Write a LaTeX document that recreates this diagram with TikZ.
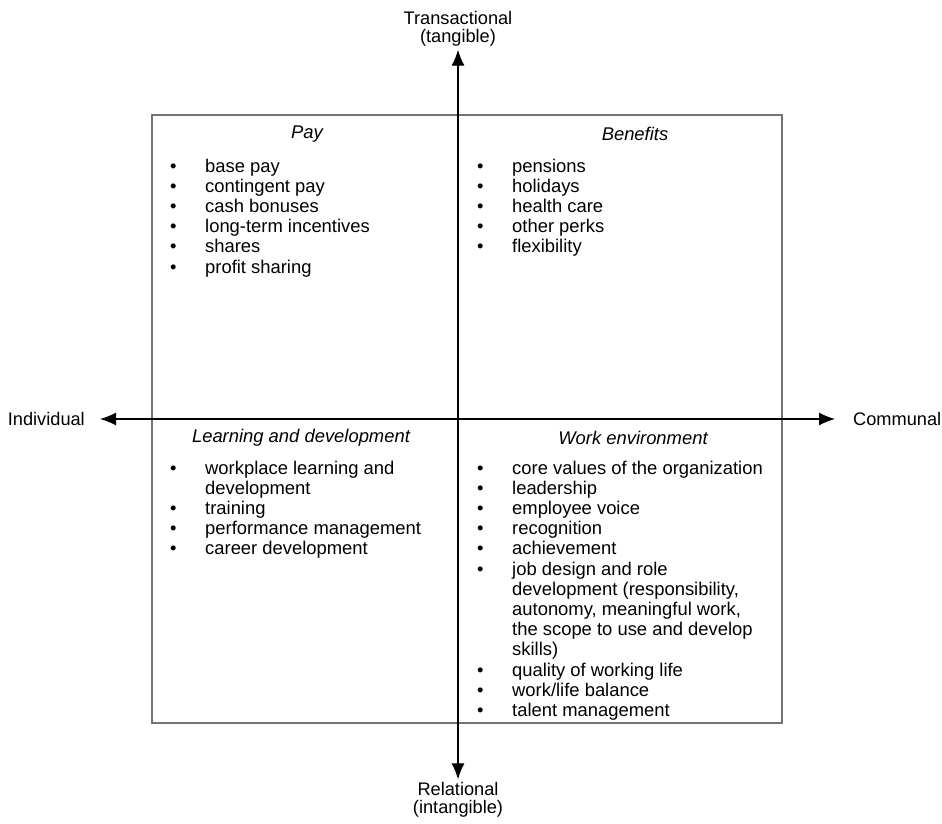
\documentclass[tikz,border=0pt]{standalone}
\usepackage{fontspec}
\setmainfont{Liberation Sans}
\usetikzlibrary{arrows.meta, positioning}

\newcommand{\quadfont}{\fontsize{18.4}{20.2}\selectfont}
\newcommand{\bul}{\textbullet}

\begin{document}
\begin{tikzpicture}[
    x=1pt, y=-1pt,
    font=\quadfont,
    frame/.style={draw=black!55, line width=1.3pt},
    axis/.style={{Latex[length=16pt,width=13pt]}-{Latex[length=16pt,width=13pt]}, line width=1.3pt},
    pole/.style={align=center, inner sep=3pt, font=\fontsize{18.2}{18}\selectfont},
    heading/.style={inner sep=0pt, font=\quadfont\itshape},
    items/.style={anchor=base west, inner sep=0pt}
]
\useasboundingbox (0,0) rectangle (942,824);

% the four quadrants
\draw[frame] (152,115) rectangle (782,723);

\node[pole] (trans) at (458,29) {Transactional\\(tangible)};
\node[pole] (rel) at (458,800) {Relational\\(intangible)};
\node[pole, anchor=east] (indiv) at (88,419) {Individual};
\node[pole, anchor=west] (comm) at (850,419) {Communal};

\draw[axis] (rel) -- (trans);
\draw[axis, shorten <=12pt, shorten >=15pt] (indiv) -- (comm);

\node[heading] (payhead) at (307,134) {Pay};
\node[heading] (benhead) at (635,134) {Benefits};
\node[heading] (ldhead) at (301,438) {Learning and development};
\node[heading] (workhead) at (633,438) {Work environment};

\node[items] (paylist) at (170,172) {\begin{tabular}[t]{@{}p{35pt}@{}l@{}}
\bul & base pay\\
\bul & contingent pay\\
\bul & cash bonuses\\
\bul & long-term incentives\\
\bul & shares\\
\bul & profit sharing
\end{tabular}};

\node[items] (benlist) at (477,172) {\begin{tabular}[t]{@{}p{35pt}@{}l@{}}
\bul & pensions\\
\bul & holidays\\
\bul & health care\\
\bul & other perks\\
\bul & flexibility
\end{tabular}};

\node[items] (ldlist) at (170,474) {\begin{tabular}[t]{@{}p{35pt}@{}l@{}}
\bul & workplace learning and\\
     & development\\
\bul & training\\
\bul & performance management\\
\bul & career development
\end{tabular}};

\node[items] (worklist) at (477,474) {\begin{tabular}[t]{@{}p{35pt}@{}l@{}}
\bul & core values of the organization\\
\bul & leadership\\
\bul & employee voice\\
\bul & recognition\\
\bul & achievement\\
\bul & job design and role\\
     & development (responsibility,\\
     & autonomy, meaningful work,\\
     & the scope to use and develop\\
     & skills)\\
\bul & quality of working life\\
\bul & work/life balance\\
\bul & talent management
\end{tabular}};
\end{tikzpicture}
\end{document}
